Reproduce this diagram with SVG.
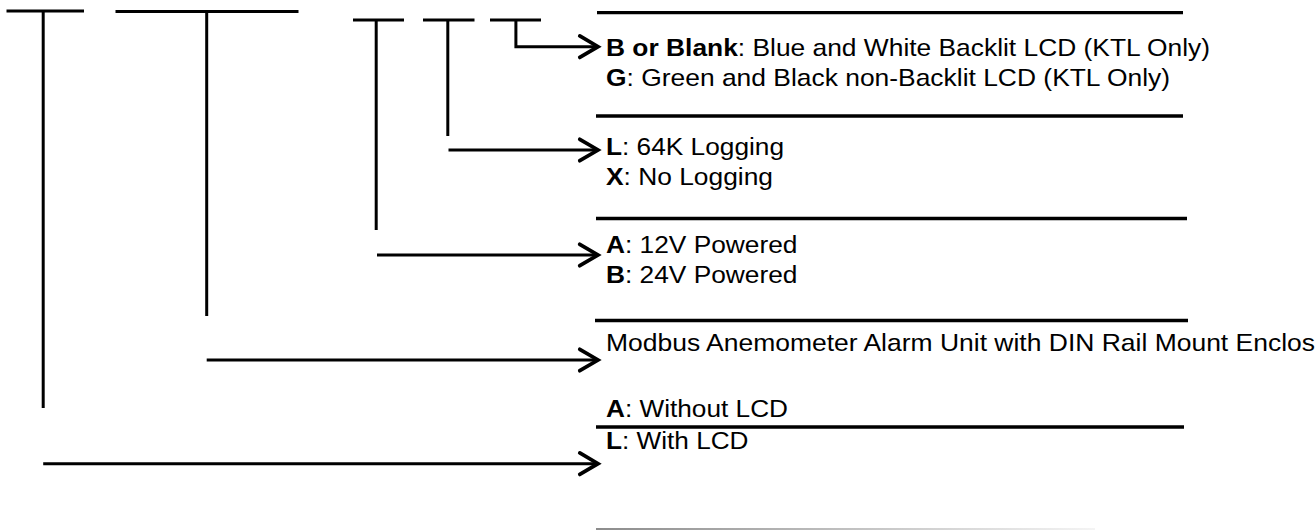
<svg xmlns="http://www.w3.org/2000/svg" width="1316" height="530" viewBox="0 0 1316 530">
  <style>
    .ln { stroke: #000; stroke-width: 3; fill: none; }
    .rule { stroke: #000; stroke-width: 3.3; fill: none; }
    .lbl { font-family: "Liberation Sans", Arial, sans-serif; font-size: 24.8px; fill: #000; }
    .b { font-weight: bold; }
  </style>
  <defs>
    <marker id="arr" markerUnits="userSpaceOnUse" markerWidth="30" markerHeight="30" viewBox="-22 -14 26 28" refX="0" refY="0" orient="auto">
      <path d="M-17,-10 L0,0 L-17,10" fill="none" stroke="#000" stroke-width="3.5" stroke-linecap="round" stroke-linejoin="miter"/>
    </marker>
    <linearGradient id="fade" gradientUnits="userSpaceOnUse" x1="596" y1="0" x2="1095" y2="0">
      <stop offset="0" stop-color="#8c8c8c"/>
      <stop offset="1" stop-color="#f4f4f4"/>
    </linearGradient>
  </defs>
  <rect width="1316" height="530" fill="#fff"/>

  <g id="code-bars">
    <line class="ln" x1="6.5" y1="11" x2="84" y2="11"/>
    <line class="ln" x1="115.5" y1="11.5" x2="298.5" y2="11.5"/>
    <line class="ln" x1="353" y1="20" x2="404" y2="20"/>
    <line class="ln" x1="423" y1="20" x2="474.5" y2="20"/>
    <line class="ln" x1="490" y1="20" x2="541" y2="20"/>
  </g>

  <g id="connectors">
    <line class="ln" x1="43.2" y1="11" x2="43.2" y2="408"/>
    <line class="ln" x1="206.7" y1="11.5" x2="206.7" y2="316"/>
    <line class="ln" x1="376.2" y1="20" x2="376.2" y2="230"/>
    <line class="ln" x1="447.8" y1="20" x2="447.8" y2="136"/>
    <polyline class="ln" points="515.9,20 515.9,46.7 598,46.7" marker-end="url(#arr)"/>
    <line class="ln" x1="448.5" y1="150" x2="598" y2="150" marker-end="url(#arr)"/>
    <line class="ln" x1="377" y1="255" x2="598" y2="255" marker-end="url(#arr)"/>
    <line class="ln" x1="206.7" y1="360" x2="598" y2="360" marker-end="url(#arr)"/>
    <line class="ln" x1="43.2" y1="463.7" x2="598" y2="463.7" marker-end="url(#arr)"/>
  </g>

  <g id="rules">
    <line class="rule" x1="597" y1="12.7" x2="1183" y2="12.7"/>
    <line class="rule" x1="596" y1="116" x2="1183" y2="116"/>
    <line class="rule" x1="596" y1="218.5" x2="1187" y2="218.5"/>
    <line class="rule" x1="595" y1="320.5" x2="1188" y2="320.5"/>
    <line class="rule" x1="596" y1="427" x2="1184" y2="427"/>
    <line x1="596" y1="529.3" x2="1095" y2="529.3" stroke="url(#fade)" stroke-width="2.5"/>
  </g>

  <g id="node-display">
    <text class="lbl" x="606" y="55.5" textLength="604" lengthAdjust="spacingAndGlyphs"><tspan class="b">B or Blank</tspan>: Blue and White Backlit LCD (KTL Only)</text>
    <text class="lbl" x="606" y="86" textLength="564" lengthAdjust="spacingAndGlyphs"><tspan class="b">G</tspan>: Green and Black non-Backlit LCD (KTL Only)</text>
  </g>

  <g id="node-logging">
    <text class="lbl" x="606" y="155" textLength="178" lengthAdjust="spacingAndGlyphs"><tspan class="b">L</tspan>: 64K Logging</text>
    <text class="lbl" x="606" y="185" textLength="167" lengthAdjust="spacingAndGlyphs"><tspan class="b">X</tspan>: No Logging</text>
  </g>

  <g id="node-power">
    <text class="lbl" x="606" y="253" textLength="191.5" lengthAdjust="spacingAndGlyphs"><tspan class="b">A</tspan>: 12V Powered</text>
    <text class="lbl" x="606" y="283" textLength="191.5" lengthAdjust="spacingAndGlyphs"><tspan class="b">B</tspan>: 24V Powered</text>
  </g>

  <g id="node-product">
    <text class="lbl" x="606" y="351" textLength="709" lengthAdjust="spacingAndGlyphs">Modbus Anemometer Alarm Unit with DIN Rail Mount Enclos</text>
  </g>

  <g id="node-lcd">
    <text class="lbl" x="606" y="417" textLength="182" lengthAdjust="spacingAndGlyphs"><tspan class="b">A</tspan>: Without LCD</text>
    <text class="lbl" x="606" y="449" textLength="142.5" lengthAdjust="spacingAndGlyphs"><tspan class="b">L</tspan>: With LCD</text>
  </g>
</svg>
